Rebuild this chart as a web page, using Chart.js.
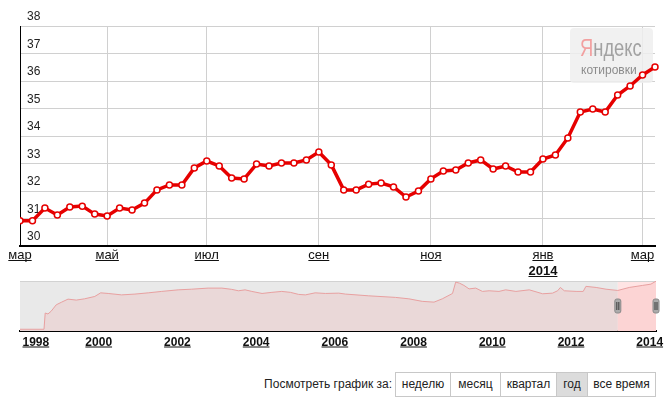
<!DOCTYPE html>
<html>
<head>
<meta charset="utf-8">
<script src="https://cdn.jsdelivr.net/npm/chart.js@4.4.1/dist/chart.umd.min.js"></script>
<style>
    body { margin: 0; background: #fff; font-family: "Liberation Sans", Arial, sans-serif; }
    #page { position: relative; width: 666px; height: 405px; overflow: hidden; }
    #mainWrap { position: absolute; left: 0; top: 0; width: 666px; height: 280px; z-index: 1; }
    #navWrap { position: absolute; left: 0; top: 275px; width: 666px; height: 80px; }
    #logo { position: absolute; left: 570px; top: 28px; width: 83px; height: 55px; z-index: 2; pointer-events: none; }
    #logo .brand { position: absolute; left: 10px; top: 8px; font-size: 24px; line-height: 24px;
        white-space: nowrap; transform: scaleX(0.765); transform-origin: 0 0; color: #a2a2a2; }
    #logo .brand span { color: #f2a0a0; }
    #logo .sub { position: absolute; left: 11px; top: 36px; font-size: 12px; line-height: 12px; color: #8c8c8c; white-space: nowrap; }
    #periodLabel { position: absolute; right: 274px; top: 372px; line-height: 25px; font-size: 12px; color: #222; white-space: nowrap; }
    #periods { position: absolute; left: 395px; top: 372px; height: 23px; display: flex; border: 1px solid #c8c8c8; }
    #periods div { box-sizing: border-box; height: 23px; line-height: 23px; font-size: 12px; color: #222;
        text-align: center; border-left: 1px solid #c8c8c8; }
    #periods div:first-child { border-left: none; }
    #periods div.on { background: #dcdcdc; }
</style>
</head>
<body>
<div id="page">
    <div id="mainWrap"><canvas id="mainChart"></canvas></div>
    <div id="logo">
        <div class="brand"><span>Я</span>ндекс</div>
        <div class="sub">котировки</div>
    </div>
    <div id="navWrap"><canvas id="navChart"></canvas></div>
    <div id="periodLabel">Посмотреть график за:</div>
    <div id="periods">
        <div style="width:54px">неделю</div>
        <div style="width:50px">месяц</div>
        <div style="width:56px">квартал</div>
        <div class="on" style="width:31px">год</div>
        <div style="width:68px">все время</div>
    </div>
</div>
<script>
// weekly USD/RUB, mar 2013 - mar 2014
const rates = [30.92, 30.92, 31.38, 31.13, 31.42, 31.45, 31.16, 31.09, 31.38, 31.31,
    31.56, 32.04, 32.22, 32.22, 32.84, 33.09, 32.91, 32.47, 32.44, 32.98,
    32.91, 33.02, 33.02, 33.13, 33.42, 32.95, 32.04, 32.04, 32.25, 32.29,
    32.15, 31.78, 32.00, 32.44, 32.73, 32.76, 33.02, 33.13, 32.80, 32.91,
    32.69, 32.69, 33.16, 33.31, 33.93, 34.87, 34.98, 34.87, 35.49, 35.82,
    36.22, 36.51];
const weekIdx = rates.map((_, i) => String(i));

// month ticks on the weekly axis
const monthTickIdx = [0, 7, 15, 24, 33, 42, 50];
const monthTickText = ["мар", "май", "июл", "сен", "ноя", "янв", "мар"];
const yearTickIdx = 42;
const yearTickText = "2014";

// navigator: whole history 1998 - 2014
const navYears = [1998.00, 1998.61, 1998.64, 1998.71, 1998.79, 1998.92, 1999.05, 1999.22, 1999.43, 1999.64,
    1999.90, 2000.05, 2000.24, 2000.58, 2000.92, 2001.26, 2001.60, 2002.02, 2002.36, 2002.78,
    2003.13, 2003.38, 2003.55, 2003.72, 2003.89, 2004.15, 2004.40, 2004.65, 2004.87, 2005.08,
    2005.25, 2005.50, 2005.76, 2006.10, 2006.27, 2006.86, 2007.54, 2007.88, 2008.22, 2008.52,
    2008.73, 2008.99, 2009.07, 2009.17, 2009.28, 2009.41, 2009.58, 2009.75, 2009.92, 2010.17,
    2010.34, 2010.60, 2010.94, 2011.28, 2011.53, 2011.66, 2011.73, 2011.83, 2012.13, 2012.31,
    2012.38, 2012.64, 2012.89, 2013.19, 2013.48, 2013.82, 2014.03, 2014.16];
const navRates = [6.0, 6.0, 16.3, 15.7, 17.4, 21.5, 23.1, 25.1, 24.5, 25.3,
    26.8, 29.1, 28.7, 27.8, 28.3, 29.1, 30.0, 31.0, 31.4, 32.1,
    32.1, 31.3, 30.4, 31.0, 30.0, 28.7, 29.4, 30.0, 29.4, 28.1,
    27.8, 29.1, 28.7, 28.9, 28.3, 27.2, 26.2, 25.3, 23.7, 23.2,
    25.3, 28.7, 35.9, 35.2, 33.8, 31.6, 32.1, 30.0, 30.4, 30.0,
    31.0, 30.0, 31.0, 28.5, 28.9, 30.4, 32.5, 30.4, 30.0, 30.0,
    33.2, 32.5, 31.4, 30.6, 32.5, 33.8, 34.6, 36.5];
const navYearTicks = [1998, 2000, 2002, 2004, 2006, 2008, 2010, 2012, 2014];
const navSelStart = 2013.19;

const FONT = '"Liberation Sans", Arial, sans-serif';

function underlined(ctx, text, x, y, align) {
    const w = ctx.measureText(text).width;
    const x0 = align === "left" ? x : x - w / 2;
    ctx.textAlign = "left";
    ctx.fillText(text, x0, y);
    ctx.fillRect(x0, y + 1, w, 1);
}

const mainDecor = {
    id: "mainDecor",
    beforeDatasetsDraw(chart) {
        const ctx = chart.ctx;
        ctx.save();
        ctx.fillStyle = "rgba(238,238,238,0.85)";
        ctx.beginPath();
        ctx.roundRect(570, 28, 83, 55, 4);
        ctx.fill();
        ctx.restore();
    },
    afterDraw(chart) {
        const ctx = chart.ctx;
        const xs = chart.scales.x;
        const base = chart.chartArea.bottom + 13;
        ctx.save();
        ctx.fillStyle = "#111";
        ctx.textBaseline = "alphabetic";
        ctx.font = "13px " + FONT;
        monthTickIdx.forEach((idx, i) => {
            underlined(ctx, monthTickText[i], xs.getPixelForValue(idx), base, "center");
        });
        ctx.font = "bold 13px " + FONT;
        underlined(ctx, yearTickText, xs.getPixelForValue(yearTickIdx), base + 16, "center");
        ctx.restore();
    }
};

new Chart(document.getElementById("mainChart"), {
    type: "line",
    data: {
        labels: weekIdx,
        datasets: [{
            data: rates,
            borderColor: "#e60000",
            borderWidth: 3.5,
            pointRadius: 3,
            pointBackgroundColor: "#fff",
            pointBorderColor: "#e60000",
            pointBorderWidth: 1.5,
            tension: 0,
            clip: { left: 0, top: 10, right: 6, bottom: 10 }
        }]
    },
    options: {
        responsive: true,
        maintainAspectRatio: false,
        animation: false,
        layout: { padding: { left: 20, right: 11, top: 26, bottom: 34 } },
        plugins: { legend: { display: false }, tooltip: { enabled: false } },
        scales: {
            x: {
                type: "category",
                offset: false,
                afterBuildTicks: (axis) => {
                    axis.ticks = monthTickIdx.map(v => ({ value: v }));
                },
                afterFit: (axis) => { axis.height = 0; },
                grid: { color: "#d0d0d0", drawTicks: false },
                border: { color: "#000", width: 2 },
                ticks: { display: false }
            },
            y: {
                min: 30,
                max: 38,
                afterFit: (axis) => { axis.width = 0; },
                ticks: {
                    stepSize: 1,
                    mirror: true,
                    padding: 7,
                    labelOffset: -9,
                    color: "#222",
                    font: { family: FONT, size: 12 }
                },
                grid: { color: "#d0d0d0", drawTicks: false },
                border: { color: "#000", width: 1 }
            }
        }
    },
    plugins: [mainDecor]
});

const navDecor = {
    id: "navDecor",
    beforeDatasetsDraw(chart) {
        const ctx = chart.ctx;
        const a = chart.chartArea;
        const xs = chart.scales.x;
        const sx = xs.getPixelForValue(navSelStart);
        ctx.save();
        ctx.fillStyle = "#e9e9e9";
        ctx.fillRect(a.left, a.top, sx - a.left, a.bottom - a.top);
        ctx.fillStyle = "#ffe4e4";
        ctx.fillRect(sx, a.top, a.right - sx, a.bottom - a.top);
        ctx.fillStyle = "#d2d2d2";
        ctx.fillRect(a.left, a.top, a.right - a.left, 1);
        ctx.restore();
    },
    afterDraw(chart) {
        const ctx = chart.ctx;
        const a = chart.chartArea;
        const xs = chart.scales.x;
        ctx.save();
        [xs.getPixelForValue(navSelStart), a.right].forEach(hx => {
            const hy = a.top + 18;
            ctx.fillStyle = "#ababab";
            ctx.strokeStyle = "#8a8a8a";
            ctx.lineWidth = 1;
            ctx.beginPath();
            ctx.roundRect(hx - 3, hy, 6, 14, 2);
            ctx.fill();
            ctx.stroke();
            ctx.fillStyle = "#3a3a3a";
            ctx.fillRect(hx - 1.5, hy + 3, 1, 8);
            ctx.fillRect(hx + 0.5, hy + 3, 1, 8);
        });
        ctx.fillStyle = "#111";
        ctx.font = "bold 12px " + FONT;
        ctx.textBaseline = "alphabetic";
        navYearTicks.forEach((y, i) => {
            const px = xs.getPixelForValue(y);
            if (i === 0) underlined(ctx, String(y), px + 2.5, a.bottom + 14.5, "left");
            else underlined(ctx, String(y), px, a.bottom + 14.5, "center");
        });
        ctx.restore();
    }
};

new Chart(document.getElementById("navChart"), {
    type: "line",
    data: {
        datasets: [{
            data: navYears.map((t, i) => ({ x: t, y: navRates[i] })),
            borderColor: "rgb(232,160,160)",
            borderWidth: 1,
            backgroundColor: "rgba(240,150,150,0.2)",
            fill: "start",
            pointRadius: 0,
            tension: 0
        }]
    },
    options: {
        responsive: true,
        maintainAspectRatio: false,
        animation: false,
        layout: { padding: { left: 20, right: 10, top: 6, bottom: 24 } },
        plugins: { legend: { display: false }, tooltip: { enabled: false } },
        scales: {
            x: {
                type: "linear",
                min: 1998,
                max: 2014.16,
                grid: { display: false, drawTicks: false },
                border: { color: "#000", width: 2 },
                ticks: { display: false }
            },
            y: {
                display: false,
                min: 4.9,
                max: 36.6
            }
        }
    },
    plugins: [navDecor]
});
</script>
</body>
</html>
